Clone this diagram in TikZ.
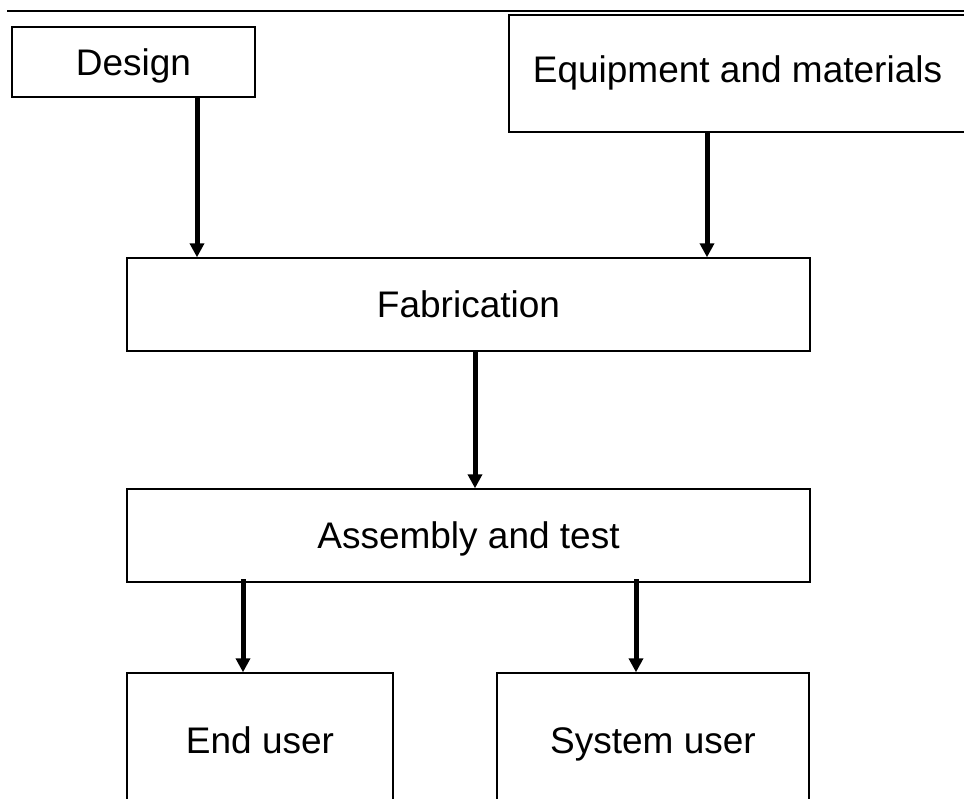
\documentclass[tikz,border=0pt]{standalone}
\usepackage{fontspec}
\setmainfont{Liberation Sans}
\usetikzlibrary{arrows.meta}
\begin{document}
\begin{tikzpicture}[x=1pt, y=-1pt,
		box/.style={draw=black, line width=1.4pt, fill=white, inner sep=0pt,
			text height=26.5pt, text depth=0pt, font=\fontsize{37}{42}\selectfont},
		arr/.style={line width=5pt, -{Triangle[length=14pt, width=14pt]}}]
		\useasboundingbox (0,0) rectangle (964,798);
		
		% rule along the top
		\coordinate (L) at (7,11);
		\coordinate (R) at (964,11);
		\draw[line width=2.5pt] (L) -- (R);
		
		% inputs
		\node[box, minimum width=243pt, minimum height=70pt] (design) at (133.5,62) {Design};
		\node[box, minimum width=457pt, minimum height=117pt, text depth=8pt] (equip) at (737.5,73.5) {Equipment and materials};
		
		% middle steps
		\node[box, minimum width=683pt, minimum height=93pt] (fab) at (468.5,304.5) {Fabrication};
		\node[box, minimum width=683pt, minimum height=93pt] (asm) at (468.5,535.5) {Assembly and test};
		
		% users, cut off at the bottom
		\node[box, minimum width=266pt, minimum height=134pt] (enduser) at (260,740) {End user};
		\node[box, minimum width=312pt, minimum height=134pt] (sysuser) at (653,740) {System user};
		
		% arrows
		\draw[arr] ([xshift=63.5pt]design.south) -- ([xshift=63.5pt]design.south |- fab.north);
		\draw[arr] ([xshift=-30.5pt]equip.south) -- ([xshift=-30.5pt]equip.south |- fab.north);
		\draw[arr] ([xshift=6.5pt]fab.south) -- ([xshift=6.5pt]fab.south |- asm.north);
		\draw[arr] (enduser.north -| 243,0) ++(0,-93) -- ([xshift=-17pt]enduser.north);
		\draw[arr] (sysuser.north -| 636,0) ++(0,-93) -- ([xshift=-17pt]sysuser.north);
	\end{tikzpicture}
\end{document}
